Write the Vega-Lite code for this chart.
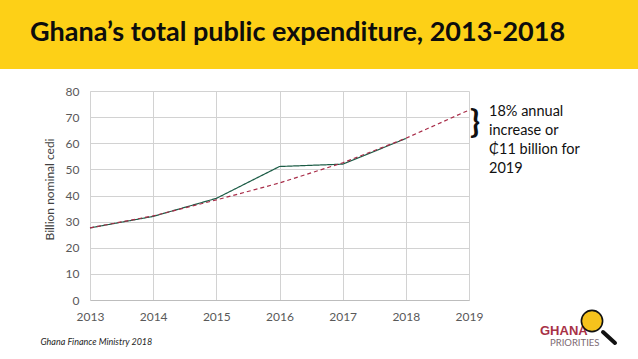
{
"$schema":"https://vega.github.io/schema/vega-lite/v6.json",
"width":379,"height":209,
"autosize":"none",
"padding":{"left":90,"top":91,"right":169,"bottom":59},
"background":"#ffffff",
"title":{"text":"Ghana’s total public expenditure, 2013-2018","anchor":"start","frame":"group","dx":-60,"offset":-47,"font":"Lato","fontSize":27,"fontWeight":"bold","color":"#0d0d0d"},
"config":{"view":{"stroke":null},"font":"Lato"},
"encoding":{
 "x":{"field":"year","type":"quantitative","scale":{"domain":[2013,2019],"nice":false,"zero":false},
  "axis":{"values":[2013,2014,2015,2016,2017,2018,2019],"format":"d","grid":true,"gridColor":"#d2d2d2","gridWidth":1,"domainColor":"#bdbdbd","ticks":false,"labelColor":"#595959","labelFontSize":12,"labelFont":"Lato","labelPadding":11,"labelFlush":false,"labelOverlap":false,
   "title":"Ghana Finance Ministry 2018","titleFont":"Lato","titleFontSize":9,"titleFontStyle":"italic","titleFontWeight":"normal","titleColor":"#262626","titleAnchor":"start","titleAlign":"left","titleX":-50,"titleY":37}},
 "y":{"field":"value","type":"quantitative","scale":{"domain":[0,80],"nice":false},
  "axis":{"values":[0,10,20,30,40,50,60,70,80],"grid":true,"gridColor":"#d2d2d2","gridWidth":1,"domainColor":"#d2d2d2","ticks":false,"labelColor":"#595959","labelFontSize":12,"labelFont":"Lato","labelPadding":11,"labelOverlap":false,
   "title":"Billion nominal cedi","titleFont":"Lato","titleFontSize":12,"titleFontWeight":"normal","titleColor":"#404040","titleX":-34,"titleY":98}}
},
"layer":[
{"data":{"values":[{"name":"banner"}]},
 "mark":{"type":"rect","color":"#fdd017","clip":false},
 "encoding":{"x":{"value":-90},"x2":{"value":549},"y":{"value":-91},"y2":{"value":-22}}},
{"data":{"values":[
{"year":2013,"series":"Actual","value":27.6},{"year":2014,"series":"Actual","value":32},{"year":2015,"series":"Actual","value":38.9},{"year":2016,"series":"Actual","value":51.1},{"year":2017,"series":"Actual","value":52},{"year":2018,"series":"Actual","value":61.8},
{"year":2013,"series":"Trend","value":27.6},{"year":2014,"series":"Trend","value":32.2},{"year":2015,"series":"Trend","value":38.3},{"year":2016,"series":"Trend","value":44.8},{"year":2017,"series":"Trend","value":52.5},{"year":2018,"series":"Trend","value":61.9},{"year":2019,"series":"Trend","value":72.7}
]},
 "mark":{"type":"line","strokeWidth":1.2},
 "encoding":{
 "color":{"field":"series","type":"nominal","scale":{"domain":["Actual","Trend"],"range":["#1c5c46","#a82c48"]},"legend":null},
 "strokeDash":{"field":"series","type":"nominal","scale":{"domain":["Actual","Trend"],"range":[[1,0],[4,3]]},"legend":null},
 "order":{"field":"year"}
 }},
{"data":{"values":[{"year":2019,"value":68,"brace":"}"}]},
 "mark":{"type":"text","font":"Lato","fontSize":33,"fontWeight":"bold","color":"#111111","align":"left","baseline":"middle","dx":1,"dy":1},
 "encoding":{"text":{"field":"brace"}}},
{"data":{"values":[{"year":2019,"value":73,"note":["18% annual","increase or","₵11 billion for","2019"]}]},
 "mark":{"type":"text","font":"Lato","fontSize":14.5,"color":"#111111","align":"left","baseline":"top","dx":20,"dy":-4,"lineHeight":19},
 "encoding":{"text":{"field":"note"}}},
{"data":{"values":[{"word":"GHANA"}]},
 "mark":{"type":"text","font":"Liberation Sans","fontSize":13,"fontWeight":"bold","color":"#a83246","align":"left","baseline":"middle","clip":false},
 "encoding":{"x":{"value":450},"y":{"value":240},"text":{"field":"word"}}},
{"data":{"values":[{"word":"PRIORITIES"}]},
 "mark":{"type":"text","font":"Lato","fontSize":9.5,"color":"#7d6a72","align":"left","baseline":"middle","clip":false},
 "encoding":{"x":{"value":460},"y":{"value":252},"text":{"field":"word"}}},
{"data":{"values":[{"part":"handle"}]},
 "mark":{"type":"rule","color":"#111111","strokeWidth":4,"strokeCap":"round"},
 "encoding":{"x":{"value":513},"x2":{"value":525},"y":{"value":241},"y2":{"value":252}}},
{"data":{"values":[{"part":"lens"}]},
 "mark":{"type":"point","filled":true,"fill":"#f6c21c","stroke":"#111111","strokeWidth":1.6,"opacity":1,"size":450},
 "encoding":{"x":{"value":502},"y":{"value":230}}}
]
}
